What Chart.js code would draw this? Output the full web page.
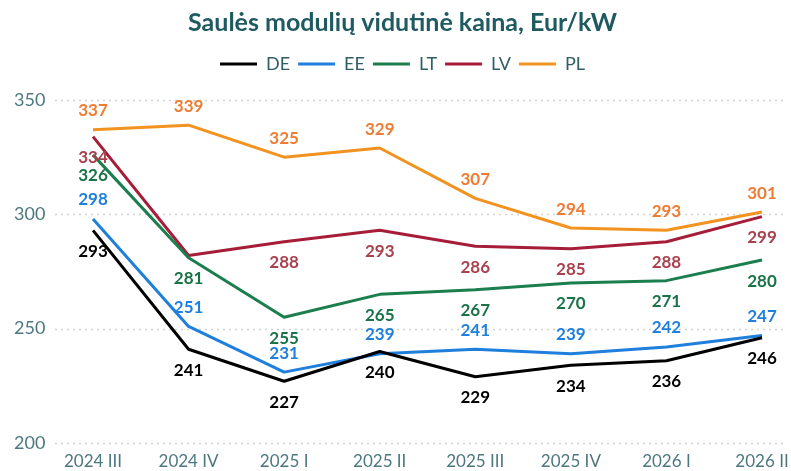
<!DOCTYPE html>
<html>
<head>
<meta charset="utf-8">
<script src="https://cdn.jsdelivr.net/npm/chart.js@4.4.0/dist/chart.umd.min.js"></script>
<style>
  html, body { margin: 0; padding: 0; background: #fff; overflow: hidden; }
  #wrap { position: relative; width: 791px; height: 471px; }
</style>
</head>
<body>
<div id="wrap"><canvas id="myChart"></canvas></div>
<script>
var quarters = ['2024 III', '2024 IV', '2025 I', '2025 II', '2025 III', '2025 IV', '2026 I', '2026 II'];
var deValues = [293, 241, 227, 240, 229, 234, 236, 246];
var eeValues = [298, 251, 231, 239, 241, 239, 242, 247];
var ltValues = [326, 281, 255, 265, 267, 270, 271, 280];
var lvValues = [334, 282, 288, 293, 286, 285, 288, 299];
var plValues = [337, 339, 325, 329, 307, 294, 293, 301];
var yTicks = [200, 250, 300, 350];

var lineColors = {
    de: '#000000',
    ee: '#1F7FDC',
    lt: '#1B7E4E',
    lv: '#A51D38',
    pl: '#F29320'
};
var labelColors = {
    de: '#000000',
    ee: '#1F7FDC',
    lt: '#1A7347',
    lv: '#A9414E',
    pl: '#EE7C32'
};
var textColor = '#4D7880';
var fontName = 'Lato';

function series(name, values, key, side) {
    return {
        label: name,
        data: values,
        borderColor: lineColors[key],
        backgroundColor: lineColors[key],
        borderWidth: 3,
        pointRadius: 0,
        tension: 0,
        borderJoinStyle: 'round',
        fill: false,
        labelColor: labelColors[key],
        labelSide: side
    };
}

// extra space under the legend
var legendGap = {
    id: 'legendGap',
    beforeInit: function(chart) {
        var fit = chart.legend.fit;
        chart.legend.fit = function() {
            fit.bind(chart.legend)();
            this.height += 17;
        };
    }
};

// dotted horizontal gridlines, a bit wider than the plot like the original
var gridPlugin = {
    id: 'dottedGrid',
    beforeDatasetsDraw: function(chart) {
        var ctx = chart.ctx, y = chart.scales.y, area = chart.chartArea;
        ctx.save();
        ctx.strokeStyle = '#D2D2D2';
        ctx.lineWidth = 1.5;
        ctx.setLineDash([2, 4]);
        yTicks.forEach(function(v) {
            var py = Math.round(y.getPixelForValue(v)) + 0.5;
            ctx.beginPath();
            ctx.moveTo(area.left - 38, py);
            ctx.lineTo(area.right + 25, py);
            ctx.stroke();
        });
        ctx.restore();
    }
};

// value labels above / below each point, skipped when they would collide
var valueLabels = {
    id: 'valueLabels',
    afterDatasetsDraw: function(chart) {
        var ctx = chart.ctx;
        var placed = [];
        ctx.save();
        ctx.font = 'bold 17px ' + fontName;
        ctx.textAlign = 'center';
        ctx.textBaseline = 'middle';
        chart.data.datasets.forEach(function(ds, i) {
            var meta = chart.getDatasetMeta(i);
            meta.data.forEach(function(pt, j) {
                var txt = String(ds.data[j]);
                var ly = ds.labelSide === 'above' ? pt.y - 19 : pt.y + 21;
                var w = ctx.measureText(txt).width;
                var box = {l: pt.x - w / 2, r: pt.x + w / 2, t: ly - 6, b: ly + 6};
                var hit = placed.some(function(o) {
                    return box.l < o.r && box.r > o.l && box.t < o.b && box.b > o.t;
                });
                if (hit) return;
                placed.push(box);
                ctx.fillStyle = ds.labelColor;
                ctx.fillText(txt, pt.x, ly);
            });
        });
        ctx.restore();
    }
};

var ctx = document.getElementById('myChart').getContext('2d');
var myChart = new Chart(ctx, {
    type: 'line',
    data: {
        labels: quarters,
        datasets: [
            series('DE', deValues, 'de', 'below'),
            series('EE', eeValues, 'ee', 'above'),
            series('LT', ltValues, 'lt', 'below'),
            series('LV', lvValues, 'lv', 'below'),
            series('PL', plValues, 'pl', 'above')
        ]
    },
    options: {
        responsive: true,
        maintainAspectRatio: false,
        animation: false,
        devicePixelRatio: 1,
        layout: { padding: { left: 14, right: 0, top: 8, bottom: 0 } },
        plugins: {
            title: {
                display: true,
                text: 'Saulės modulių vidutinė kaina, Eur/kW',
                color: '#1F5A61',
                font: { family: fontName, size: 25, weight: 'bold' },
                padding: { top: 0, bottom: 9 }
            },
            legend: {
                labels: {
                    color: '#2F5E66',
                    font: { family: fontName, size: 18 },
                    boxWidth: 37,
                    boxHeight: 3,
                    padding: 8,
                    generateLabels: function(chart) {
                        var items = Chart.defaults.plugins.legend.labels.generateLabels(chart);
                        items.forEach(function(it) {
                            it.lineWidth = 0;
                            it.fillStyle = it.strokeStyle;
                        });
                        return items;
                    }
                }
            },
            tooltip: { enabled: false }
        },
        scales: {
            x: {
                offset: false,
                grid: { display: false, drawTicks: true, tickLength: 6 },
                border: { display: false },
                afterFit: function(scale) { scale.height = 28; },
                ticks: {
                    color: textColor,
                    font: { family: fontName, size: 17 },
                    padding: 2,
                    maxRotation: 0
                }
            },
            y: {
                min: 200,
                max: 350,
                grid: { display: false, drawTicks: false },
                border: { display: false },
                afterFit: function(scale) { scale.width = 79; },
                ticks: {
                    stepSize: 50,
                    color: textColor,
                    font: { family: fontName, size: 18 },
                    padding: 0,
                    crossAlign: 'far'
                }
            },
            // empty axis on the right, only keeps the plot clear of the edge
            yRight: {
                position: 'right',
                grid: { display: false, drawTicks: false },
                border: { display: false },
                ticks: { display: false },
                afterFit: function(scale) { scale.width = 29; }
            }
        }
    },
    plugins: [legendGap, gridPlugin, valueLabels]
});
</script>
</body>
</html>
